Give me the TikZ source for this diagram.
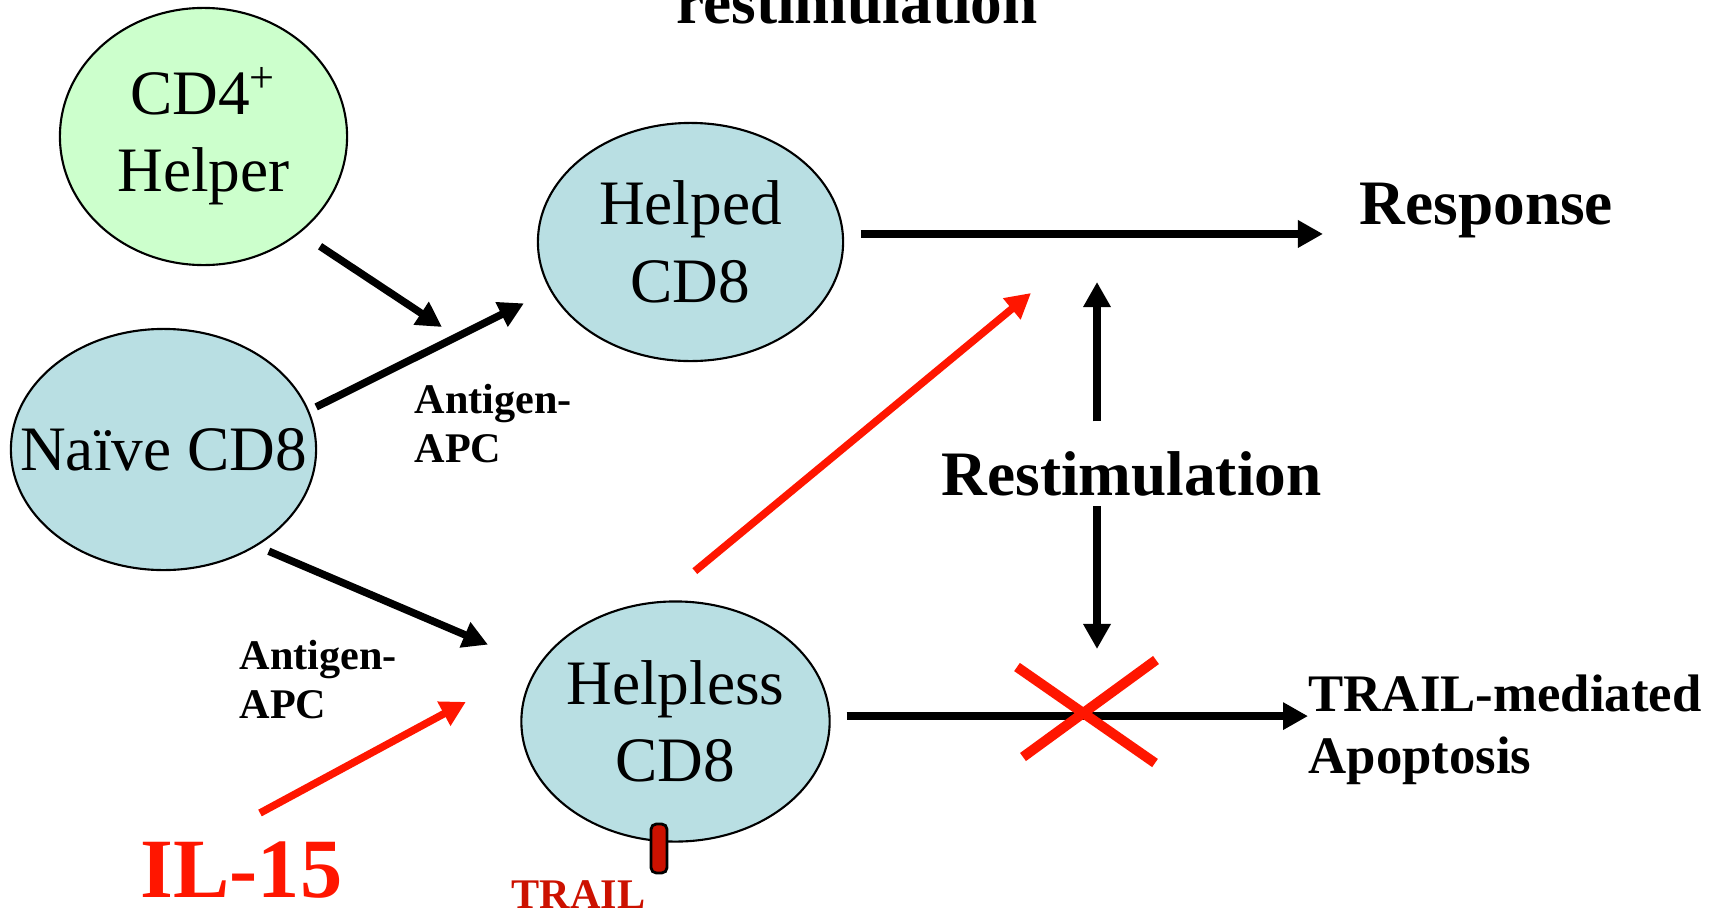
\documentclass[tikz,border=0pt]{standalone}
\usepackage{fontspec}
\setmainfont{Liberation Serif}
\usepackage{xcolor}
\usetikzlibrary{arrows.meta,positioning,shapes.geometric}
\definecolor{helpgreen}{RGB}{204,255,204}
\definecolor{cellblue}{RGB}{185,223,227}
\definecolor{ilred}{RGB}{255,22,0}
\definecolor{traildark}{RGB}{204,17,0}

\begin{document}
\begin{tikzpicture}[x=0.01cm,y=-0.01cm,
  cell/.style={draw,ellipse,line width=0.6pt,inner sep=0pt,minimum width=3.05cm,minimum height=2.4cm,align=center,font=\fontsize{18}{22}\selectfont,fill=cellblue},
  helper/.style={cell,fill=helpgreen,minimum width=2.87cm,minimum height=2.57cm},
  lbl/.style={inner sep=0pt,font=\fontsize{18}{22}\selectfont\bfseries},
  small/.style={inner sep=0pt,align=left,font=\fontsize{12}{13.7}\selectfont\bfseries},
  arr/.style={-{Triangle[length=0.25cm,width=0.26cm]},line width=0.075cm},
  redarr/.style={arr,ilred}
]
\useasboundingbox (0,0) rectangle (1719,912);

% Cells
\node[helper] (cd4) at (203.5,136.5) {CD4\textsuperscript{+}\\Helper};
\node[cell,minimum height=2.41cm] (naive) at (163.5,449.5) {\makebox[0pt]{Naïve CD8}};
\node[cell,minimum height=2.38cm] (helped) at (690.5,242) {Helped\\CD8};
\node[cell] (helpless) at (675.5,721.5) {Helpless\\CD8};

% Labels
\node[lbl,anchor=base] (title) at (857,23) {restimulation};
\node[lbl,anchor=base west] (response) at (1359,224) {Response};
\node[lbl,anchor=base west] (restim) at (941,495) {Restimulation};
\node[small,anchor=north west] (apc1) at (414,384) {Antigen-\\APC};
\node[small,anchor=north west] (apc2) at (239,640) {Antigen-\\APC};
\node[inner sep=0pt,align=left,anchor=north west,font=\fontsize{15}{17.8}\selectfont\bfseries] (apoptosis) at (1308,674) {TRAIL-mediated\\Apoptosis};
\node[inner sep=0pt,anchor=base west,text=ilred,font=\fontsize{24}{28}\selectfont\bfseries] (il15) at (140,897) {IL-15};
\node[inner sep=0pt,anchor=base west,text=traildark,font=\fontsize{12}{14}\selectfont\bfseries] (trail) at (511,908) {TRAIL};

% Free ends
\coordinate (join) at (442,327);
\coordinate (upend) at (1097,282);
\coordinate (downend) at (1097,649);
\coordinate (ilstart) at (260,813);
\coordinate (redend) at (1031,293);

% Arrows
\draw[arr,shorten <=0.24cm] (cd4.-45) -- (join);
\draw[arr,shorten <=0.08cm,shorten >=0.29cm] (naive.15) -- (helped.199);
\draw[arr,shorten <=0.13cm,shorten >=0.54cm] (naive.-46) -- (helpless.158);
\draw[arr,shorten <=0.17cm,shorten >=0.36cm] (helped.3) -- (helped.3 -| response.west);
\draw[arr,shorten <=0.16cm] (helpless.2) -- (helpless.2 -| apoptosis.west);
\draw[arr,shorten <=0.29cm] (restim.north -| upend) -- (upend);
\draw[arr,shorten <=0.10cm] (restim.south -| downend) -- (downend);
\draw[redarr,shorten >=0.85cm] (ilstart) -- (helpless.156);
\draw[redarr,shorten <=0.47cm] (helpless.98) -- (redend);

% Block and receptor
\draw[ilred,line width=0.1cm] (1017,667) -- (1155,763) (1156,660) -- (1023,757);
\draw[fill=traildark,line width=0.8pt,rounded corners=1.5pt] (651,824) rectangle (667,873);

\end{tikzpicture}
\end{document}
